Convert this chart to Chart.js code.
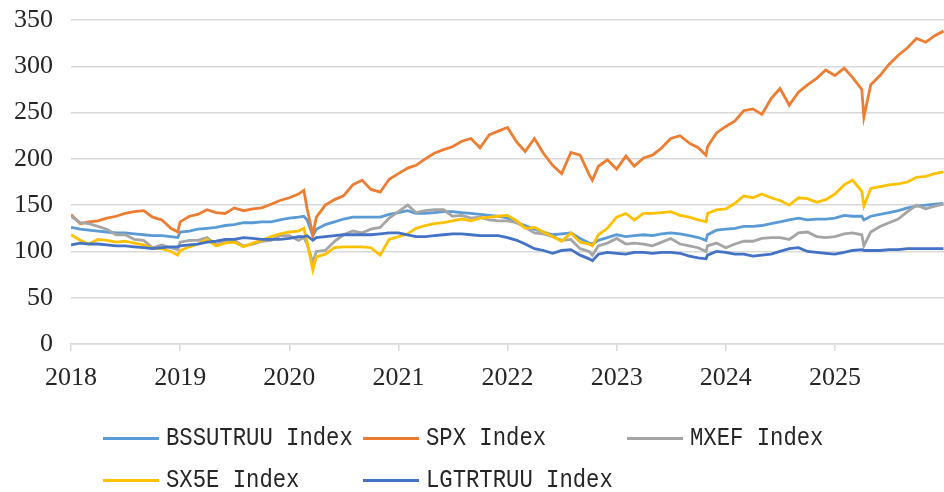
<!DOCTYPE html>
<html>
<head>
<meta charset="utf-8">
<script src="https://cdn.jsdelivr.net/npm/chart.js@4/dist/chart.umd.min.js"></script>
<style>
  html, body { margin: 0; padding: 0; background: #fff; }
  #wrap { position: relative; width: 944px; height: 492px; overflow: hidden; }
  #c { position: absolute; left: 0; top: 0; }
  .lg { position: absolute; display: flex; align-items: center; height: 30px; margin-top: -15px; white-space: pre; }
  .lg span.ln { display: inline-block; width: 56px; height: 3px; margin-right: 7px; flex: none; }
  .lg span.tx { display: inline-block; font-family: "Liberation Mono", "DejaVu Sans Mono", monospace;
        font-size: 26px; color: #262626; transform: scaleX(0.855); transform-origin: 0 50%; }
</style>
</head>
<body>
<div id="wrap">
  <canvas id="c" width="944" height="492"></canvas>
</div>
<script>
const dates = [
  '2018-01-01','2018-02-01','2018-03-01','2018-04-01','2018-05-01','2018-06-01','2018-07-01','2018-08-01','2018-09-01','2018-10-01','2018-11-01','2018-12-01','2018-12-24',
  '2019-01-01','2019-02-01','2019-03-01','2019-04-01','2019-05-01','2019-06-01','2019-07-01','2019-08-01','2019-09-01','2019-10-01','2019-11-01','2019-12-01',
  '2020-01-01','2020-02-01','2020-02-19','2020-03-01','2020-03-20','2020-04-01','2020-05-01','2020-06-01','2020-07-01','2020-08-01','2020-09-01','2020-10-01','2020-11-01','2020-12-01',
  '2021-01-01','2021-02-01','2021-03-01','2021-04-01','2021-05-01','2021-06-01','2021-07-01','2021-08-01','2021-09-01','2021-10-01','2021-11-01','2021-12-01',
  '2022-01-01','2022-02-01','2022-03-01','2022-04-01','2022-05-01','2022-06-01','2022-07-01','2022-08-01','2022-09-01','2022-10-01','2022-10-12','2022-11-01','2022-12-01',
  '2023-01-01','2023-02-01','2023-03-01','2023-04-01','2023-05-01','2023-06-01','2023-07-01','2023-08-01','2023-09-01','2023-10-01','2023-10-27','2023-11-01','2023-12-01',
  '2024-01-01','2024-02-01','2024-03-01','2024-04-01','2024-05-01','2024-06-01','2024-07-01','2024-08-01','2024-09-01','2024-10-01','2024-11-01','2024-12-01',
  '2025-01-01','2025-02-01','2025-03-01','2025-04-01','2025-04-08','2025-05-01','2025-06-01','2025-07-01','2025-08-01','2025-09-01','2025-10-01','2025-11-01','2025-12-01','2025-12-30'
];

const seriesNames = ['BSSUTRUU Index', 'SPX Index', 'MXEF Index', 'SX5E Index', 'LGTRTRUU Index'];
const seriesColors = ['#5B9BD5', '#ED7D31', '#A5A5A5', '#FFC000', '#4472C4'];

const bssutruu = [
  126,124,123,122,121,120,120,119,118,117,117,116,115,
  121,122,124,125,126,128,129,131,131,132,132,134,
  136,137,138,134,117,124,129,132,135,137,137,137,137,140,
  142,144,141,141,142,143,143,142,141,140,139,138,
  136,131,128,124,121,118,119,120,114,109,108,112,115,
  118,116,117,118,117,119,120,119,117,115,112,118,123,
  124,125,127,127,128,130,132,134,136,134,135,135,
  136,139,138,138,134,138,140,142,144,147,149,150,151,152
];
const spx = [
  140,130,132,133,136,138,141,143,144,137,134,125,121,
  132,138,140,145,142,141,147,144,146,147,151,155,
  158,162,166,146,118,137,150,156,160,172,177,167,164,178,
  184,190,193,200,206,210,213,219,222,212,226,230,
  234,218,208,222,206,193,184,207,204,183,177,192,199,
  189,203,192,201,204,212,222,225,217,212,204,213,228,
  235,241,252,254,248,265,276,258,272,280,287,296,
  290,298,288,275,245,280,290,302,312,320,330,326,333,338
];
const mxef = [
  138,131,130,127,124,118,118,113,112,104,107,104,102,
  110,112,112,115,107,111,112,106,108,111,112,117,
  117,112,115,108,88,100,101,111,118,122,120,124,126,136,
  143,150,142,144,145,145,138,139,136,137,134,133,
  133,131,126,120,119,116,112,113,103,100,96,106,109,
  114,108,109,108,106,110,114,108,106,104,100,106,109,
  104,108,111,111,114,115,115,113,120,121,116,115,
  116,119,120,118,106,121,127,131,135,143,150,146,149,151
];
const sx5e = [
  118,112,108,113,112,110,111,109,107,103,103,100,96,
  101,105,108,113,106,109,110,105,109,112,116,119,
  121,122,125,110,80,94,97,104,105,105,105,104,96,113,
  116,119,125,128,130,131,133,135,133,136,137,138,
  139,133,125,126,121,116,111,120,110,108,106,118,125,
  137,141,134,141,141,142,143,139,137,134,132,141,145,
  146,152,160,158,162,158,155,150,158,157,153,156,
  162,172,177,165,149,168,170,172,173,175,180,181,184,186
];
const lgtrtruu = [
  107,109,108,108,107,106,106,105,104,103,104,105,105,
  106,107,108,110,111,113,113,115,114,113,113,113,
  114,116,116,117,112,115,116,117,118,118,118,118,119,120,
  120,118,116,116,117,118,119,119,118,117,117,117,
  115,112,108,103,101,98,101,102,96,92,90,97,99,
  98,97,99,99,98,99,99,98,95,93,92,96,100,
  99,97,97,95,96,97,100,103,104,100,99,98,
  97,99,101,102,101,101,101,102,102,103,103,103,103,103
];

const yTicks = [0, 50, 100, 150, 200, 250, 300, 350];
const xTickYears = [2018, 2019, 2020, 2021, 2022, 2023, 2024, 2025];

function toYear(s) {
  const [y, m, d] = s.split('-').map(Number);
  const t0 = Date.UTC(y, 0, 1), t1 = Date.UTC(y + 1, 0, 1);
  return y + (Date.UTC(y, m - 1, d) - t0) / (t1 - t0);
}
const xs = dates.map(toYear);
const allValues = [bssutruu, spx, mxef, sx5e, lgtrtruu];

const datasets = allValues.map((vals, i) => ({
  label: seriesNames[i],
  data: vals.map((v, k) => ({ x: xs[k], y: v })),
  borderColor: seriesColors[i],
  backgroundColor: seriesColors[i],
  borderWidth: 2.8,
  pointRadius: 0,
  tension: 0,
  order: allValues.length - i
}));

const serif = "'Liberation Serif', 'Times New Roman', serif";

new Chart(document.getElementById('c'), {
  type: 'line',
  data: { datasets },
  options: {
    responsive: false,
    animation: false,
    layout: { padding: { top: 20, left: 0, right: 0, bottom: 0 } },
    plugins: { legend: { display: false }, tooltip: { enabled: false } },
    scales: {
      x: {
        type: 'linear',
        min: 2018,
        max: 2026,
        afterBuildTicks: (axis) => { axis.ticks = xTickYears.map(v => ({ value: v })); },
        afterFit: (axis) => { axis.height = 148; axis.paddingLeft = 0; axis.paddingRight = 0; },
        grid: { drawOnChartArea: false, drawTicks: true, tickLength: 7, color: '#d9d9d9', lineWidth: 1.5 },
        border: { display: true, color: '#d9d9d9', width: 1.5 },
        ticks: {
          autoSkip: false, maxRotation: 0, padding: 12,
          color: '#262626', font: { family: serif, size: 26 },
          callback: (v) => String(v)
        }
      },
      y: {
        min: 0,
        max: 350,
        afterBuildTicks: (axis) => { axis.ticks = yTicks.map(v => ({ value: v })); },
        afterFit: (axis) => { axis.width = 71; axis.paddingTop = 0; axis.paddingBottom = 0; },
        grid: { drawTicks: false, color: '#d9d9d9', lineWidth: 1.5 },
        border: { display: false },
        ticks: {
          padding: 18,
          color: '#262626', font: { family: serif, size: 26 },
          callback: (v) => String(v)
        }
      }
    }
  }
});

// legend (HTML, built from series names/colors)
const legendSlots = [
  { i: 0, x: 103, y: 438 }, { i: 1, x: 363, y: 438 }, { i: 2, x: 627, y: 438 },
  { i: 3, x: 103, y: 480 }, { i: 4, x: 363, y: 480 }
];
const wrap = document.getElementById('wrap');
legendSlots.forEach(s => {
  const d = document.createElement('div');
  d.className = 'lg';
  d.style.left = s.x + 'px';
  d.style.top = s.y + 'px';
  const ln = document.createElement('span');
  ln.className = 'ln';
  ln.style.background = seriesColors[s.i];
  const tx = document.createElement('span');
  tx.className = 'tx';
  tx.textContent = seriesNames[s.i];
  d.appendChild(ln);
  d.appendChild(tx);
  wrap.appendChild(d);
});
</script>
</body>
</html>
